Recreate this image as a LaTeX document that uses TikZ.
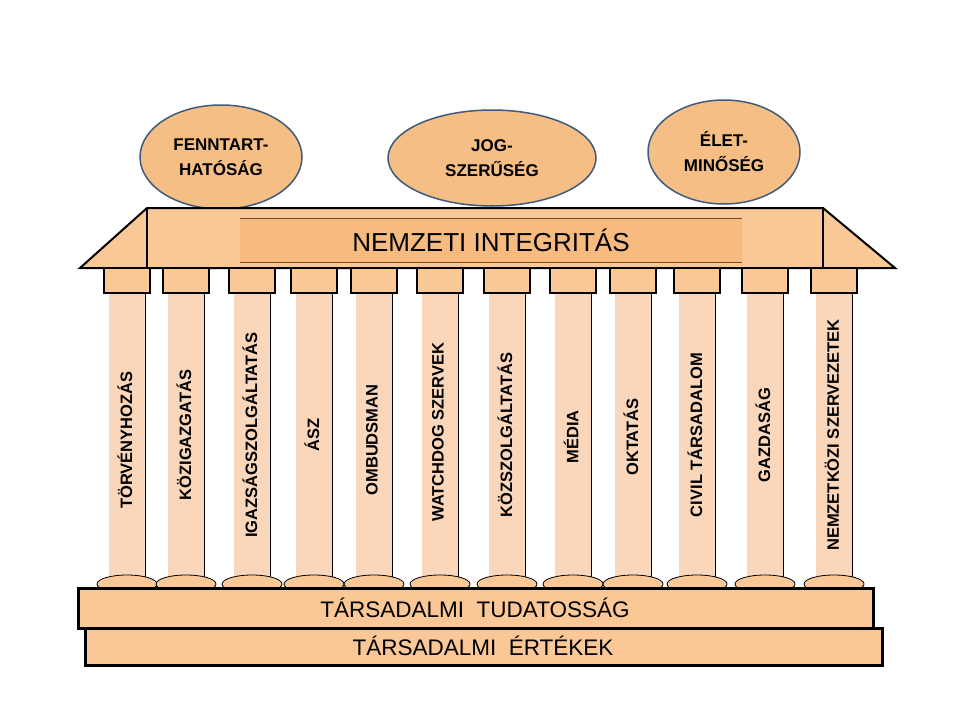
\documentclass[tikz,border=0pt]{standalone}
\usepackage{fontspec}
\setmainfont{Liberation Sans}
\definecolor{roofcol}{HTML}{FAC896}
\definecolor{bandcol}{HTML}{F7BB80}
\definecolor{shaftcol}{HTML}{FAD6BA}
\definecolor{ovalcol}{HTML}{F5BE84}
\definecolor{ovaledge}{HTML}{3F5A7A}
\tikzset{
  goal/.style={ellipse, draw=ovaledge, line width=1.5pt, fill=ovalcol, align=center,
    font=\bfseries\fontsize{17}{25}\selectfont},
  slab/.style={draw=black, line width=3pt, fill=roofcol},
  pillar/.style={rotate=90, font=\bfseries\fontsize{16.5}{18}\selectfont}
}
\usetikzlibrary{shapes.geometric}
\begin{document}
\begin{tikzpicture}[x=1pt,y=-1pt]
    \useasboundingbox (0,0) rectangle (960,720);
    % goals
    \node[goal, minimum width=162pt, minimum height=104pt] (fennt) at (221,157) {FENNTART-\\HATÓSÁG};
    \node[goal, minimum width=208pt, minimum height=96pt] (jog) at (492,158) {JOG-\\SZERŰSÉG};
    \node[goal, minimum width=152pt, minimum height=104pt] (elet) at (724,152) {ÉLET-\\MINŐSÉG};
    % roof
    \draw[line width=2pt, fill=roofcol] (80,268) -- (147,208) -- (823,208) -- (895,268) -- cycle;
    \draw[line width=2pt] (147,208) -- (147,268);
    \draw[line width=2pt] (823,208) -- (823,268);
    \fill[bandcol] (240,218) rectangle (742,262);
    \draw[thick, brown!60!black] (240,218) -- (742,218);
    \draw[thick, brown!60!black] (240,262) -- (742,262);
    \node[font=\fontsize{26}{30}\selectfont] (nemzeti) at (491,240) {NEMZETI INTEGRITÁS};
    % columns
    \foreach \cx/\lbl/\ly in {127/TÖRVÉNYHOZÁS/440, 186/KÖZIGAZGATÁS/435,
        252/IGAZSÁGSZOLGÁLTATÁS/435, 314/ÁSZ/435, 374/OMBUDSMAN/440,
        440/WATCHDOG SZERVEK/432, 507/KÖZSZOLGÁLTATÁS/435, 573/MÉDIA/437,
        633/OKTATÁS/437, 697/CIVIL TÁRSADALOM/435, 765/GAZDASÁG/435,
        834/NEMZETKÖZI SZERVEZETEK/435} {
      \fill[shaftcol] (\cx-18,293) rectangle (\cx+18,578);
      \draw[thick] (\cx+18,293) -- (\cx+18,578);
      \draw[line width=1.8pt, fill=roofcol] (\cx-23,268) rectangle (\cx+23,293);
      \draw[thick, fill=roofcol] (\cx,584) ellipse [x radius=30, y radius=9];
      \node[pillar] (p\cx) at (\cx-2,\ly) {\lbl};
    }
    % base
    \draw[slab] (85,628) rectangle (882,665);
    \draw[slab] (78,588) rectangle (873,628);
    \node[font=\fontsize{22.5}{26}\selectfont] (tudat) at (475,608) {TÁRSADALMI~ TUDATOSSÁG};
    \node[font=\fontsize{22.5}{26}\selectfont] (ertek) at (483,646) {TÁRSADALMI~ ÉRTÉKEK};
\end{tikzpicture}
\end{document}
